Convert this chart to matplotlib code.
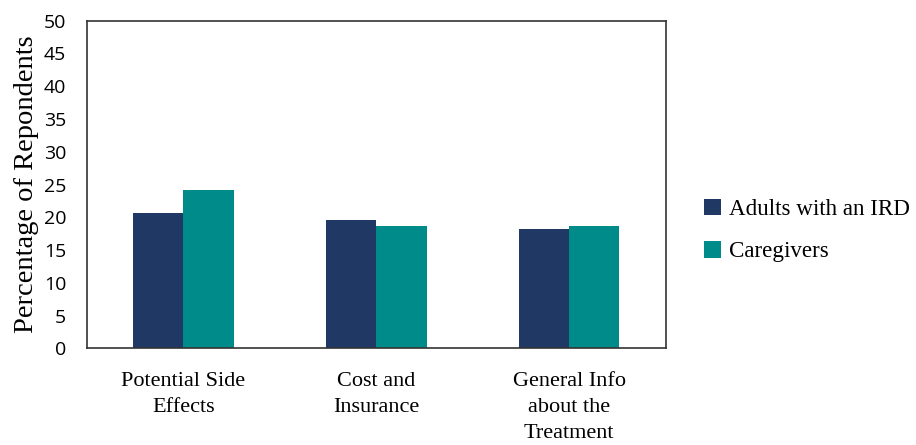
import matplotlib.pyplot as plt
import numpy as np

categories = ["Potential Side\nEffects", "Cost and\nInsurance", "General Info\nabout the\nTreatment"]
adults = [20.6, 19.6, 18.2]
caregivers = [24.1, 18.7, 18.7]

serif = "Liberation Serif"
fig = plt.figure(figsize=(9.16, 4.45), dpi=100)
ax = fig.add_axes([87 / 916, 1 - 348.3 / 445, 578.7 / 916, 327.6 / 445])

x = np.arange(len(categories))
w = 0.26
ax.bar(x - w / 2, adults, w, color="#1f3864", label="Adults with an IRD")
ax.bar(x + w / 2, caregivers, w, color="#008b8b", label="Caregivers")

ax.set_xlim(-0.5, 2.5)
ax.set_ylim(0, 50)
ax.set_yticks(range(0, 51, 5))
ax.set_xticks(x)
ax.set_xticklabels(categories, family=serif, fontsize=16, linespacing=1.5)
for t in ax.get_yticklabels():
    t.set_family("Open Sans")
    t.set_fontsize(14)
ax.tick_params(length=0)
ax.tick_params(axis="y", pad=15)
ax.tick_params(axis="x", pad=17)
ax.set_ylabel("Percentage of Repondents", family=serif, fontsize=20.5, labelpad=3)
for s in ax.spines.values():
    s.set_color("#333333")
    s.set_linewidth(1.2)

ax.legend(loc="center left", bbox_to_anchor=(1.03, 0.36), frameon=False,
          prop={"family": serif, "size": 16.6}, handlelength=0.75, handleheight=0.75,
          handletextpad=0.35, labelspacing=0.9)

fig.savefig("out.png")
